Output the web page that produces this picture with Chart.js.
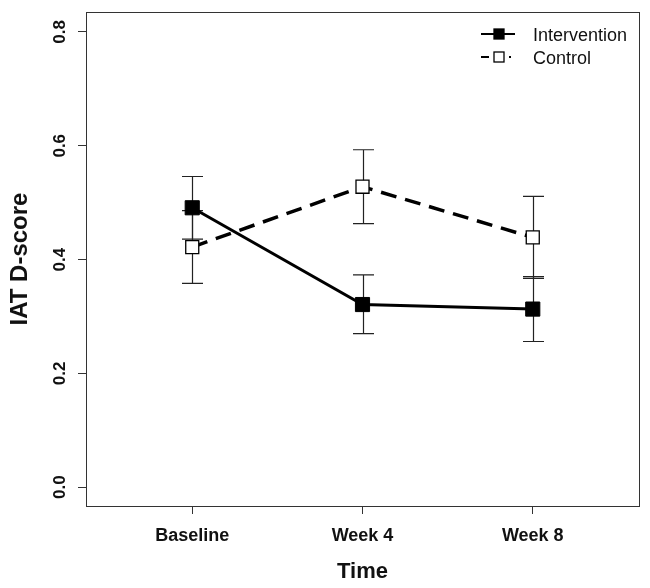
<!DOCTYPE html>
<html><head><meta charset="utf-8">
<script src="https://cdn.jsdelivr.net/npm/chart.js@4.4.1/dist/chart.umd.min.js"></script>
<style>html,body{margin:0;padding:0;background:#fff}</style>
</head><body>
<canvas id="c" width="650" height="588"></canvas>
<script>
const categories = ['Baseline', 'Week 4', 'Week 8'];
const seriesNames = ['Intervention', 'Control'];
const interventionMean = [0.491, 0.321, 0.313];
const interventionLower = [0.436, 0.270, 0.256];
const interventionUpper = [0.546, 0.373, 0.370];
const controlMean = [0.422, 0.528, 0.439];
const controlLower = [0.358, 0.463, 0.367];
const controlUpper = [0.486, 0.593, 0.511];
const yTicks = [0.0, 0.2, 0.4, 0.6, 0.8];

const FONT = "'Liberation Sans', Arial, sans-serif";
const AXIS = '#333';

const toPts = arr => arr.map((v, i) => ({ x: i + 1, y: v }));

const errorBars = {
  id: 'errorBars',
  beforeDatasetsDraw(chart) {
    const ctx = chart.ctx, ys = chart.scales.y, xs = chart.scales.x;
    ctx.save();
    ctx.strokeStyle = '#222';
    ctx.lineWidth = 1.2;
    chart.data.datasets.forEach(ds => {
      ds.lower.forEach((lo, i) => {
        const x = Math.round(xs.getPixelForValue(i + 1)) + 0.5;
        const y1 = ys.getPixelForValue(lo), y2 = ys.getPixelForValue(ds.upper[i]);
        ctx.beginPath();
        ctx.moveTo(x, y1); ctx.lineTo(x, y2);
        ctx.moveTo(x - 10.5, y1); ctx.lineTo(x + 10.5, y1);
        ctx.moveTo(x - 10.5, y2); ctx.lineTo(x + 10.5, y2);
        ctx.stroke();
      });
    });
    ctx.restore();
  }
};

const frame = {
  id: 'frame',
  afterDraw(chart) {
    const ctx = chart.ctx, a = chart.chartArea, ys = chart.scales.y;
    ctx.save();
    ctx.strokeStyle = AXIS;
    ctx.lineWidth = 1;
    ctx.strokeRect(Math.round(a.left) + 0.5, Math.round(a.top) + 0.5, Math.round(a.right - a.left), Math.round(a.bottom - a.top));
    // y tick labels (rotated, as in R)
    ctx.fillStyle = '#111';
    ctx.font = 'bold 17px ' + FONT;
    ctx.textAlign = 'center';
    ctx.textBaseline = 'middle';
    yTicks.forEach(v => {
      ctx.save();
      ctx.translate(60, ys.getPixelForValue(v));
      ctx.rotate(-Math.PI / 2);
      ctx.fillText(v.toFixed(1), 0, 0);
      ctx.restore();
    });
    // legend
    const ds = chart.data.datasets;
    const lx1 = 481, lx2 = 515, mx = 499;
    const rows = [34, 57];
    ctx.font = '18px ' + FONT;
    ctx.textAlign = 'left';
    ds.forEach((d, k) => {
      const y = rows[k];
      ctx.strokeStyle = '#000';
      ctx.lineWidth = 2.2;
      ctx.setLineDash(k === 0 ? [] : [8, 20, 2, 20]);
      ctx.beginPath();
      ctx.moveTo(lx1, y); ctx.lineTo(lx2, y);
      ctx.stroke();
      ctx.setLineDash([]);
      ctx.fillStyle = d.pointBackgroundColor;
      ctx.fillRect(mx - 5, y - 5, 10, 10);
      ctx.lineWidth = 1.3;
      ctx.strokeRect(mx - 5, y - 5, 10, 10);
      ctx.fillStyle = '#111';
      ctx.fillText(d.label, 533, y + 2);
    });
    ctx.restore();
  }
};

new Chart(document.getElementById('c'), {
  type: 'line',
  data: {
    datasets: [
      {
        label: seriesNames[0],
        data: toPts(interventionMean),
        lower: interventionLower, upper: interventionUpper,
        borderColor: '#000', borderWidth: 3,
        pointStyle: 'rect', pointRadius: 10, pointBackgroundColor: '#000',
        pointBorderColor: '#000', pointBorderWidth: 1
      },
      {
        label: seriesNames[1],
        data: toPts(controlMean),
        lower: controlLower, upper: controlUpper,
        borderColor: '#000', borderWidth: 3.5, borderDash: [16, 9],
        pointStyle: 'rect', pointRadius: 9.2, pointBackgroundColor: '#fff',
        pointBorderColor: '#000', pointBorderWidth: 1.3
      }
    ]
  },
  options: {
    responsive: false,
    animation: false,
    devicePixelRatio: 1,
    layout: { padding: { top: 12, right: 11, left: 0, bottom: 0 } },
    plugins: { legend: { display: false }, tooltip: { enabled: false } },
    elements: { line: { tension: 0 } },
    scales: {
      x: {
        type: 'linear', min: 0.376, max: 3.624,
        afterBuildTicks: s => { s.ticks = categories.map((c, i) => ({ value: i + 1 })); },
        afterFit: s => { s.height = 82; },
        ticks: {
          callback: v => categories[v - 1] ?? '',
          font: { family: FONT, size: 18, weight: 'bold' }, color: '#111',
          padding: 11, maxRotation: 0, autoSkip: false
        },
        grid: { drawOnChartArea: false, drawTicks: true, tickLength: 8, color: AXIS, tickColor: AXIS },
        border: { display: true, color: AXIS, width: 1 },
        title: { display: true, text: 'Time', font: { family: FONT, size: 22, weight: 'bold' }, color: '#111', padding: { top: 0, bottom: 3 } }
      },
      y: {
        type: 'linear', min: -0.033, max: 0.835,
        afterBuildTicks: s => { s.ticks = yTicks.map(v => ({ value: v })); },
        afterFit: s => { s.width = 86; },
        ticks: { display: false },
        grid: { drawOnChartArea: false, drawTicks: true, tickLength: 8, color: AXIS, tickColor: AXIS },
        border: { display: true, color: AXIS, width: 1 },
        title: { display: true, text: 'IAT D-score', font: { family: FONT, size: 24, weight: 'bold' }, color: '#111', padding: { top: 6, bottom: 0 } }
      }
    }
  },
  plugins: [errorBars, frame]
});
</script>
</body></html>
